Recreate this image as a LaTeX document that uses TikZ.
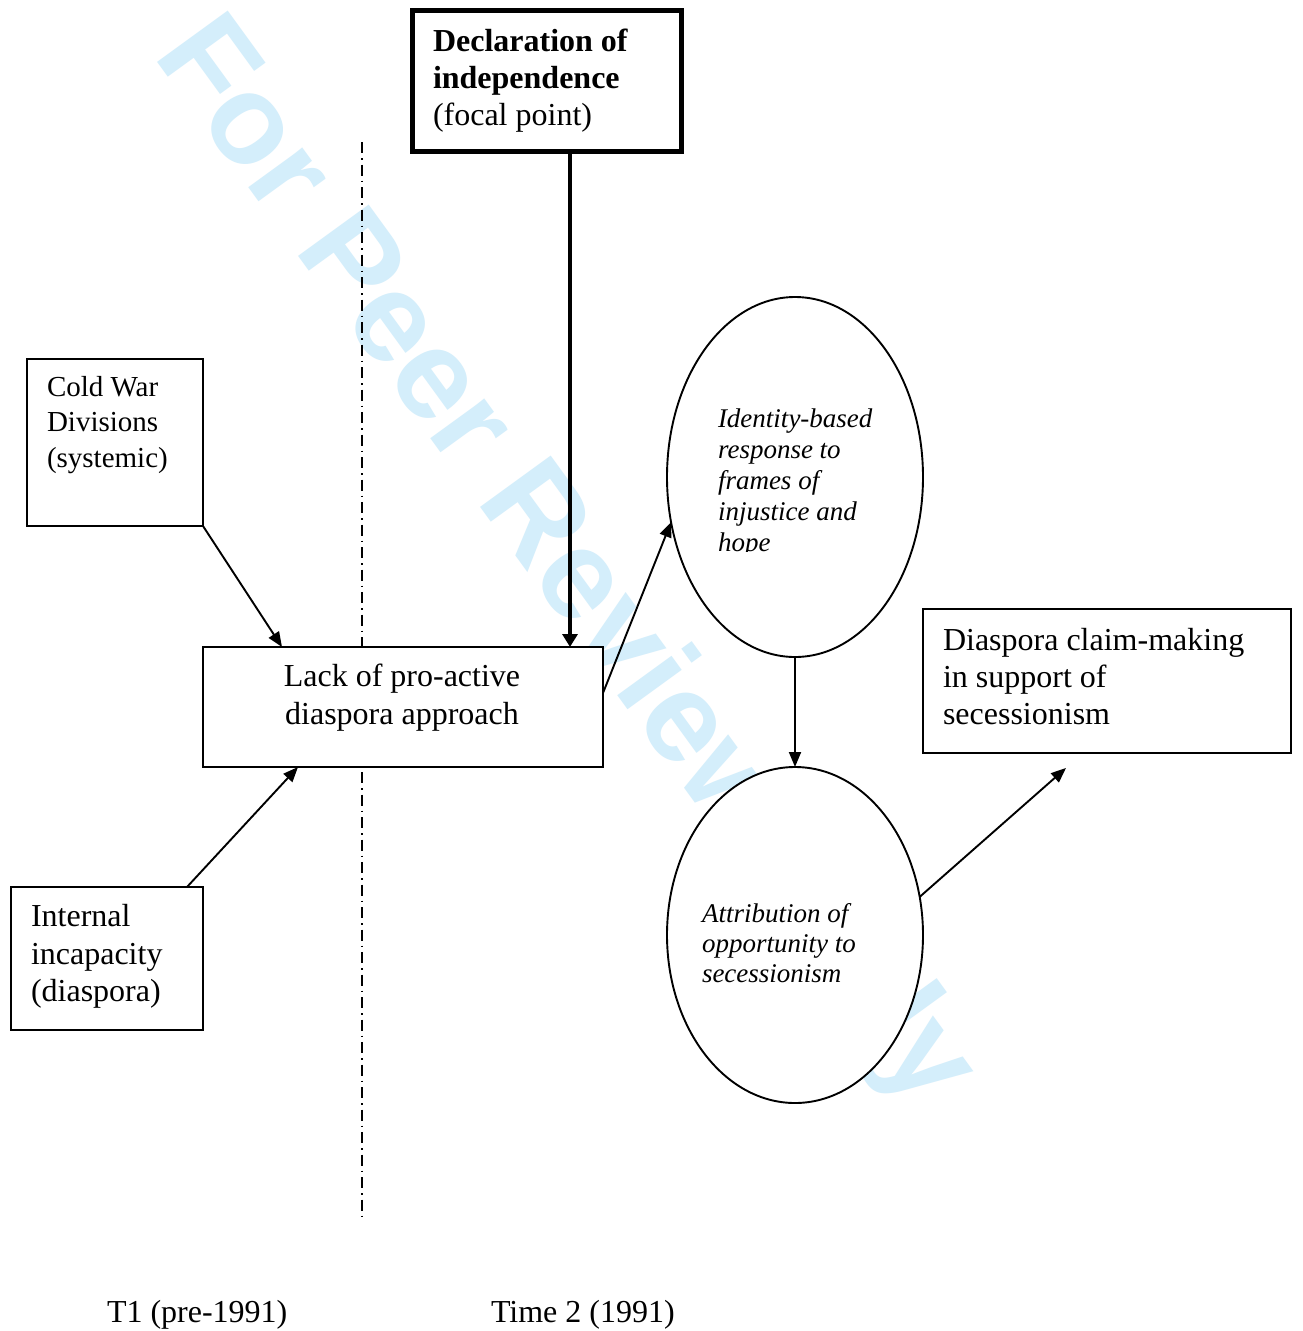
\documentclass[tikz,border=0pt]{standalone}
\usepackage{fontspec}
\setmainfont{Liberation Serif}
\newfontfamily\wmfont{Liberation Sans}
\usetikzlibrary{arrows.meta,calc,shapes.geometric}
\definecolor{wmblue}{RGB}{212,238,251}
\begin{document}
\begin{tikzpicture}[x=1pt,y=-1pt,
  box/.style={draw, line width=1.9pt, fill=white, rectangle, inner sep=0pt, outer sep=0pt},
  oval/.style={draw, line width=1.9pt, fill=white, ellipse, inner sep=0pt, outer sep=0pt},
  txt/.style={inner sep=0pt, outer sep=0pt, align=left, anchor=west, font=\fontsize{32}{37}\selectfont},
  itxt/.style={inner sep=0pt, outer sep=0pt, align=left, anchor=west, font=\fontsize{27}{31}\selectfont\itshape},
  arr/.style={line width=1.9pt, -{Triangle[length=15pt,width=12pt]}},
  thickarr/.style={line width=4pt, -{Triangle[length=13pt,width=15pt]}},
]
\path[use as bounding box] (0,0) rectangle (1303,1331);
\fill[white] (0,0) rectangle (1303,1331);

% watermark
\node[anchor=base west, rotate=-54, text=wmblue, inner sep=0pt,
      font=\wmfont\bfseries\fontsize{127}{127}\selectfont] (wm) at (152,55) {For Peer Review Only};

% time divider
\coordinate (divtop) at (362,142);
\coordinate (divbot) at (362,1222);
\draw[line width=1.9pt, dash pattern=on 11pt off 5pt on 1.5pt off 5pt] (divtop) -- (divbot);

% shapes
\node[box, line width=5pt, minimum width=269pt, minimum height=141pt] (decl) at (547,81) {};
\node[box, minimum width=176pt, minimum height=167pt] (cw) at (115,442.5) {};
\node[box, minimum width=400pt, minimum height=120pt] (lack) at (403,707) {};
\node[box, minimum width=192pt, minimum height=143pt] (int) at (107,958.5) {};
\node[box, minimum width=368pt, minimum height=144pt] (dia) at (1107,681) {};
\node[oval, minimum width=256pt, minimum height=360pt] (e1) at (795,477) {};
\node[oval, minimum width=256pt, minimum height=336pt] (e2) at (795,935) {};

% texts
\node[txt] (decltxt) at (433,81) {\textbf{Declaration of}\\\textbf{independence}\\(focal point)};
\node[txt, font=\fontsize{29}{35.5}\selectfont] (cwtxt) at (47,425) {Cold War\\Divisions\\(systemic)};
\node[txt, align=center, anchor=center, font=\fontsize{32}{38}\selectfont] (lacktxt) at (402,698) {Lack of pro-active\\diaspora approach};
\node[txt, font=\fontsize{32}{37.5}\selectfont] (inttxt) at (31,956.5) {Internal\\incapacity\\(diaspora)};
\node[txt] (diatxt) at (943,677) {Diaspora claim-making\\in support of\\secessionism};
\begin{scope}
  \clip (700,390) rectangle (920,551);
  \node[itxt] (e1txt) at (718,483) {Identity-based\\response to\\frames of\\injustice and\\hope};
\end{scope}
\node[itxt, font=\fontsize{27}{30}\selectfont\itshape] (e2txt) at (702,943) {Attribution of\\opportunity to\\secessionism};
\node[txt] (t1) at (107,1315) {T1 (pre-1991)};
\node[txt] (t2) at (491,1315) {Time 2 (1991)};

% connectors
\draw[thickarr] ($(decl.south)+(23,0)$) -- ($(lack.north west)+(367,0)$);
\draw[arr] (cw.south east) -- ($(lack.north west)+(79,0)$);
\draw[arr] ($(int.north east)+(-16,0)$) -- ($(lack.south west)+(95,0)$);
\draw[arr] ($(lack.east)+(0,-14)$) -- (e1.200);
\draw[arr] (e1.south) -- (e2.north);
\coordinate (diaend) at ($(dia.south west)+(143,15)$);
\draw[arr] (e2.17) -- (diaend);
\end{tikzpicture}
\end{document}
